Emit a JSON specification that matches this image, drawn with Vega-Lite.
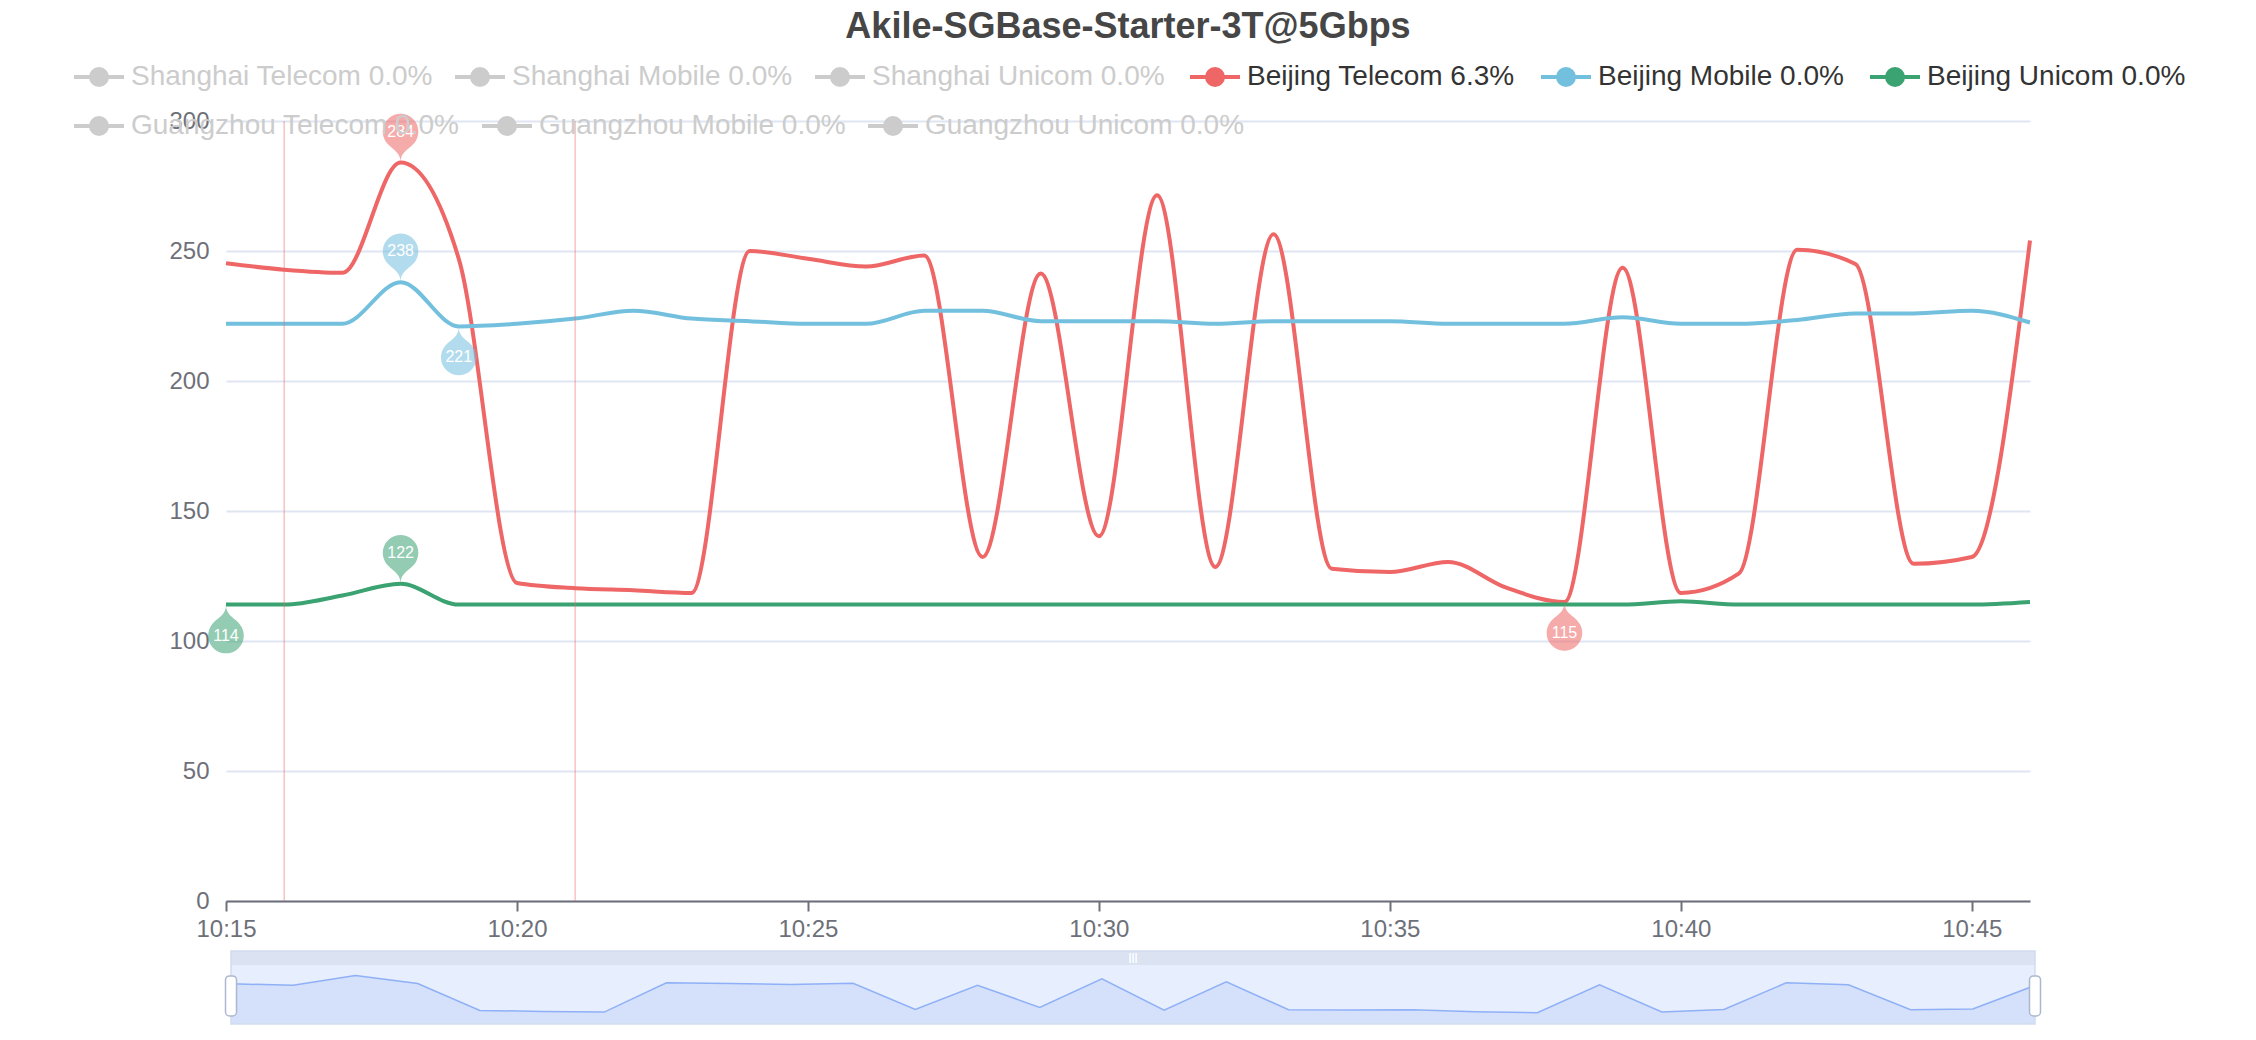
{
  "$schema": "https://vega.github.io/schema/vega-lite/v6.json",
  "width": 1804,
  "height": 780,
  "autosize": {"type": "none"},
  "padding": {"left": 226, "top": 121, "right": 226, "bottom": 139},
  "background": "#ffffff",
  "config": {"font": "Liberation Sans", "view": {"stroke": null}},
  "title": {"text": "Akile-SGBase-Starter-3T@5Gbps", "fontSize": 36, "fontWeight": "bold", "color": "#464646", "anchor": "middle", "offset": 4, "font": "Liberation Sans"},
  "datasets": {
    "lines": [
      {"t": "2024-01-01T10:15", "series": "Beijing Telecom 6.3%", "value": 245.3},
      {"t": "2024-01-01T10:16", "series": "Beijing Telecom 6.3%", "value": 242.8},
      {"t": "2024-01-01T10:17", "series": "Beijing Telecom 6.3%", "value": 241.6},
      {"t": "2024-01-01T10:18", "series": "Beijing Telecom 6.3%", "value": 284},
      {"t": "2024-01-01T10:19", "series": "Beijing Telecom 6.3%", "value": 247},
      {"t": "2024-01-01T10:20", "series": "Beijing Telecom 6.3%", "value": 122.3},
      {"t": "2024-01-01T10:21", "series": "Beijing Telecom 6.3%", "value": 120.3},
      {"t": "2024-01-01T10:22", "series": "Beijing Telecom 6.3%", "value": 119.5},
      {"t": "2024-01-01T10:23", "series": "Beijing Telecom 6.3%", "value": 118.5},
      {"t": "2024-01-01T10:24", "series": "Beijing Telecom 6.3%", "value": 250},
      {"t": "2024-01-01T10:25", "series": "Beijing Telecom 6.3%", "value": 247},
      {"t": "2024-01-01T10:26", "series": "Beijing Telecom 6.3%", "value": 244},
      {"t": "2024-01-01T10:27", "series": "Beijing Telecom 6.3%", "value": 248.3},
      {"t": "2024-01-01T10:28", "series": "Beijing Telecom 6.3%", "value": 132.3},
      {"t": "2024-01-01T10:29", "series": "Beijing Telecom 6.3%", "value": 241.3},
      {"t": "2024-01-01T10:30", "series": "Beijing Telecom 6.3%", "value": 140.3},
      {"t": "2024-01-01T10:31", "series": "Beijing Telecom 6.3%", "value": 271.4},
      {"t": "2024-01-01T10:32", "series": "Beijing Telecom 6.3%", "value": 128.5},
      {"t": "2024-01-01T10:33", "series": "Beijing Telecom 6.3%", "value": 256.4},
      {"t": "2024-01-01T10:34", "series": "Beijing Telecom 6.3%", "value": 127.8},
      {"t": "2024-01-01T10:35", "series": "Beijing Telecom 6.3%", "value": 126.5},
      {"t": "2024-01-01T10:36", "series": "Beijing Telecom 6.3%", "value": 130.4},
      {"t": "2024-01-01T10:37", "series": "Beijing Telecom 6.3%", "value": 120.5},
      {"t": "2024-01-01T10:38", "series": "Beijing Telecom 6.3%", "value": 115},
      {"t": "2024-01-01T10:39", "series": "Beijing Telecom 6.3%", "value": 243.6},
      {"t": "2024-01-01T10:40", "series": "Beijing Telecom 6.3%", "value": 118.5},
      {"t": "2024-01-01T10:41", "series": "Beijing Telecom 6.3%", "value": 126},
      {"t": "2024-01-01T10:42", "series": "Beijing Telecom 6.3%", "value": 250.5},
      {"t": "2024-01-01T10:43", "series": "Beijing Telecom 6.3%", "value": 245},
      {"t": "2024-01-01T10:44", "series": "Beijing Telecom 6.3%", "value": 129.7},
      {"t": "2024-01-01T10:45", "series": "Beijing Telecom 6.3%", "value": 132.3},
      {"t": "2024-01-01T10:46", "series": "Beijing Telecom 6.3%", "value": 254},
      {"t": "2024-01-01T10:15", "series": "Beijing Mobile 0.0%", "value": 222},
      {"t": "2024-01-01T10:16", "series": "Beijing Mobile 0.0%", "value": 222},
      {"t": "2024-01-01T10:17", "series": "Beijing Mobile 0.0%", "value": 222},
      {"t": "2024-01-01T10:18", "series": "Beijing Mobile 0.0%", "value": 238},
      {"t": "2024-01-01T10:19", "series": "Beijing Mobile 0.0%", "value": 221},
      {"t": "2024-01-01T10:20", "series": "Beijing Mobile 0.0%", "value": 222},
      {"t": "2024-01-01T10:21", "series": "Beijing Mobile 0.0%", "value": 224},
      {"t": "2024-01-01T10:22", "series": "Beijing Mobile 0.0%", "value": 227},
      {"t": "2024-01-01T10:23", "series": "Beijing Mobile 0.0%", "value": 224},
      {"t": "2024-01-01T10:24", "series": "Beijing Mobile 0.0%", "value": 223},
      {"t": "2024-01-01T10:25", "series": "Beijing Mobile 0.0%", "value": 222},
      {"t": "2024-01-01T10:26", "series": "Beijing Mobile 0.0%", "value": 222},
      {"t": "2024-01-01T10:27", "series": "Beijing Mobile 0.0%", "value": 227},
      {"t": "2024-01-01T10:28", "series": "Beijing Mobile 0.0%", "value": 227},
      {"t": "2024-01-01T10:29", "series": "Beijing Mobile 0.0%", "value": 223},
      {"t": "2024-01-01T10:30", "series": "Beijing Mobile 0.0%", "value": 223},
      {"t": "2024-01-01T10:31", "series": "Beijing Mobile 0.0%", "value": 223},
      {"t": "2024-01-01T10:32", "series": "Beijing Mobile 0.0%", "value": 222},
      {"t": "2024-01-01T10:33", "series": "Beijing Mobile 0.0%", "value": 223},
      {"t": "2024-01-01T10:34", "series": "Beijing Mobile 0.0%", "value": 223},
      {"t": "2024-01-01T10:35", "series": "Beijing Mobile 0.0%", "value": 223},
      {"t": "2024-01-01T10:36", "series": "Beijing Mobile 0.0%", "value": 222},
      {"t": "2024-01-01T10:37", "series": "Beijing Mobile 0.0%", "value": 222},
      {"t": "2024-01-01T10:38", "series": "Beijing Mobile 0.0%", "value": 222},
      {"t": "2024-01-01T10:39", "series": "Beijing Mobile 0.0%", "value": 224.5},
      {"t": "2024-01-01T10:40", "series": "Beijing Mobile 0.0%", "value": 222},
      {"t": "2024-01-01T10:41", "series": "Beijing Mobile 0.0%", "value": 222},
      {"t": "2024-01-01T10:42", "series": "Beijing Mobile 0.0%", "value": 223.5},
      {"t": "2024-01-01T10:43", "series": "Beijing Mobile 0.0%", "value": 226},
      {"t": "2024-01-01T10:44", "series": "Beijing Mobile 0.0%", "value": 226},
      {"t": "2024-01-01T10:45", "series": "Beijing Mobile 0.0%", "value": 227},
      {"t": "2024-01-01T10:46", "series": "Beijing Mobile 0.0%", "value": 222.5},
      {"t": "2024-01-01T10:15", "series": "Beijing Unicom 0.0%", "value": 114},
      {"t": "2024-01-01T10:16", "series": "Beijing Unicom 0.0%", "value": 114},
      {"t": "2024-01-01T10:17", "series": "Beijing Unicom 0.0%", "value": 117.5},
      {"t": "2024-01-01T10:18", "series": "Beijing Unicom 0.0%", "value": 122},
      {"t": "2024-01-01T10:19", "series": "Beijing Unicom 0.0%", "value": 114},
      {"t": "2024-01-01T10:20", "series": "Beijing Unicom 0.0%", "value": 114},
      {"t": "2024-01-01T10:21", "series": "Beijing Unicom 0.0%", "value": 114},
      {"t": "2024-01-01T10:22", "series": "Beijing Unicom 0.0%", "value": 114},
      {"t": "2024-01-01T10:23", "series": "Beijing Unicom 0.0%", "value": 114},
      {"t": "2024-01-01T10:24", "series": "Beijing Unicom 0.0%", "value": 114},
      {"t": "2024-01-01T10:25", "series": "Beijing Unicom 0.0%", "value": 114},
      {"t": "2024-01-01T10:26", "series": "Beijing Unicom 0.0%", "value": 114},
      {"t": "2024-01-01T10:27", "series": "Beijing Unicom 0.0%", "value": 114},
      {"t": "2024-01-01T10:28", "series": "Beijing Unicom 0.0%", "value": 114},
      {"t": "2024-01-01T10:29", "series": "Beijing Unicom 0.0%", "value": 114},
      {"t": "2024-01-01T10:30", "series": "Beijing Unicom 0.0%", "value": 114},
      {"t": "2024-01-01T10:31", "series": "Beijing Unicom 0.0%", "value": 114},
      {"t": "2024-01-01T10:32", "series": "Beijing Unicom 0.0%", "value": 114},
      {"t": "2024-01-01T10:33", "series": "Beijing Unicom 0.0%", "value": 114},
      {"t": "2024-01-01T10:34", "series": "Beijing Unicom 0.0%", "value": 114},
      {"t": "2024-01-01T10:35", "series": "Beijing Unicom 0.0%", "value": 114},
      {"t": "2024-01-01T10:36", "series": "Beijing Unicom 0.0%", "value": 114},
      {"t": "2024-01-01T10:37", "series": "Beijing Unicom 0.0%", "value": 114},
      {"t": "2024-01-01T10:38", "series": "Beijing Unicom 0.0%", "value": 114},
      {"t": "2024-01-01T10:39", "series": "Beijing Unicom 0.0%", "value": 114},
      {"t": "2024-01-01T10:40", "series": "Beijing Unicom 0.0%", "value": 115.3},
      {"t": "2024-01-01T10:41", "series": "Beijing Unicom 0.0%", "value": 114},
      {"t": "2024-01-01T10:42", "series": "Beijing Unicom 0.0%", "value": 114},
      {"t": "2024-01-01T10:43", "series": "Beijing Unicom 0.0%", "value": 114},
      {"t": "2024-01-01T10:44", "series": "Beijing Unicom 0.0%", "value": 114},
      {"t": "2024-01-01T10:45", "series": "Beijing Unicom 0.0%", "value": 114},
      {"t": "2024-01-01T10:46", "series": "Beijing Unicom 0.0%", "value": 115}
    ],
    "pins": [
      {"t": "2024-01-01T10:18", "series": "Beijing Telecom 6.3%", "value": 284, "kind": "max"},
      {"t": "2024-01-01T10:38", "series": "Beijing Telecom 6.3%", "value": 115, "kind": "min"},
      {"t": "2024-01-01T10:18", "series": "Beijing Mobile 0.0%", "value": 238, "kind": "max"},
      {"t": "2024-01-01T10:19", "series": "Beijing Mobile 0.0%", "value": 221, "kind": "min"},
      {"t": "2024-01-01T10:18", "series": "Beijing Unicom 0.0%", "value": 122, "kind": "max"},
      {"t": "2024-01-01T10:15", "series": "Beijing Unicom 0.0%", "value": 114, "kind": "min"}
    ],
    "marks": [
      {"t": "2024-01-01T10:16"},
      {"t": "2024-01-01T10:21"}
    ],
    "overview": [
      {"idx": 0, "v": 121}, {"idx": 1, "v": 117}, {"idx": 2, "v": 146}, {"idx": 3, "v": 122},
      {"idx": 4, "v": 41}, {"idx": 5, "v": 38}, {"idx": 6, "v": 36}, {"idx": 7, "v": 124},
      {"idx": 8, "v": 122}, {"idx": 9, "v": 119}, {"idx": 10, "v": 123}, {"idx": 11, "v": 44},
      {"idx": 12, "v": 117}, {"idx": 13, "v": 50}, {"idx": 14, "v": 136}, {"idx": 15, "v": 42},
      {"idx": 16, "v": 127}, {"idx": 17, "v": 43}, {"idx": 18, "v": 42}, {"idx": 19, "v": 43},
      {"idx": 20, "v": 37}, {"idx": 21, "v": 34}, {"idx": 22, "v": 118}, {"idx": 23, "v": 36},
      {"idx": 24, "v": 44}, {"idx": 25, "v": 124}, {"idx": 26, "v": 118}, {"idx": 27, "v": 43},
      {"idx": 28, "v": 45}, {"idx": 29, "v": 116}
    ]
  },
  "layer": [
    {
      "layer": [
        {
          "data": {"name": "lines"},
          "mark": {"type": "line", "interpolate": "monotone", "strokeWidth": 4},
          "encoding": {
            "x": {
              "field": "t", "type": "temporal",
              "scale": {"nice": false},
              "axis": {"title": null, "format": "%H:%M",
                "values": [
                  {"year": 2024, "month": 1, "date": 1, "hours": 10, "minutes": 15},
                  {"year": 2024, "month": 1, "date": 1, "hours": 10, "minutes": 20},
                  {"year": 2024, "month": 1, "date": 1, "hours": 10, "minutes": 25},
                  {"year": 2024, "month": 1, "date": 1, "hours": 10, "minutes": 30},
                  {"year": 2024, "month": 1, "date": 1, "hours": 10, "minutes": 35},
                  {"year": 2024, "month": 1, "date": 1, "hours": 10, "minutes": 40},
                  {"year": 2024, "month": 1, "date": 1, "hours": 10, "minutes": 45}
                ],
                "grid": false, "domainColor": "#6E7079", "domainWidth": 2, "tickColor": "#6E7079", "tickWidth": 2, "tickSize": 10, "labelColor": "#6E7079", "labelFontSize": 24, "labelPadding": 6, "labelFlush": false, "labelFont": "Liberation Sans"}
            },
            "y": {
              "field": "value", "type": "quantitative",
              "scale": {"domain": [0, 300], "nice": false},
              "axis": {"title": null, "values": [0, 50, 100, 150, 200, 250, 300], "domain": false, "ticks": false, "tickSize": 0, "grid": true, "gridColor": "#E0E6F1", "gridWidth": 2, "labelColor": "#6E7079", "labelFontSize": 24, "labelPadding": 17, "labelFont": "Liberation Sans"}
            },
            "color": {
              "field": "series", "type": "nominal",
              "scale": {
                "domain": ["Beijing Telecom 6.3%", "Beijing Mobile 0.0%", "Beijing Unicom 0.0%"],
                "range": ["#ee6666", "#73c0de", "#3ba272"]
              },
              "legend": {
                "orient": "none", "legendX": 962, "legendY": -71, "direction": "horizontal", "columns": 3, "gridAlign": "none",
                "title": null,
                "symbolType": "M-1,0H1M-0.32,0A0.32,0.32,0,1,1,0.32,0A0.32,0.32,0,1,1,-0.32,0M-0.16,0A0.16,0.16,0,1,1,0.16,0A0.16,0.16,0,1,1,-0.16,0M-0.04,0A0.04,0.04,0,1,1,0.04,0A0.04,0.04,0,1,1,-0.04,0",
                "symbolSize": 2500, "symbolStrokeWidth": 4, "symbolOpacity": 1,
                "labelFontSize": 28, "labelFont": "Liberation Sans", "labelLimit": 1000, "labelOffset": 5, "labelColor": "#333333",
                "columnPadding": 18, "rowPadding": 0, "padding": 0
              }
            }
          }
        },
        {
          "data": {"name": "lines"},
          "transform": [{"filter": "false"}],
          "mark": {"type": "line", "strokeWidth": 4},
          "encoding": {
            "x": {"field": "t", "type": "temporal"},
            "y": {"field": "value", "type": "quantitative"},
            "stroke": {
              "field": "series", "type": "nominal",
              "scale": {
                "domain": ["Shanghai Telecom 0.0%", "Shanghai Mobile 0.0%", "Shanghai Unicom 0.0%"],
                "range": ["#cccccc", "#cccccc", "#cccccc"]
              },
              "legend": {
                "orient": "none", "legendX": -154, "legendY": -71, "direction": "horizontal", "columns": 3, "gridAlign": "none",
                "title": null,
                "symbolType": "M-1,0H1M-0.32,0A0.32,0.32,0,1,1,0.32,0A0.32,0.32,0,1,1,-0.32,0M-0.16,0A0.16,0.16,0,1,1,0.16,0A0.16,0.16,0,1,1,-0.16,0M-0.04,0A0.04,0.04,0,1,1,0.04,0A0.04,0.04,0,1,1,-0.04,0",
                "symbolSize": 2500, "symbolStrokeWidth": 4, "symbolOpacity": 1,
                "labelFontSize": 28, "labelFont": "Liberation Sans", "labelLimit": 1000, "labelOffset": 5, "labelColor": "#cccccc",
                "columnPadding": 14, "rowPadding": 0, "padding": 0
              }
            }
          }
        },
        {
          "data": {"name": "lines"},
          "transform": [{"filter": "false"}],
          "mark": {"type": "point", "filled": true},
          "encoding": {
            "x": {"field": "t", "type": "temporal"},
            "y": {"field": "value", "type": "quantitative"},
            "fill": {
              "field": "series", "type": "nominal",
              "scale": {
                "domain": ["Guangzhou Telecom 0.0%", "Guangzhou Mobile 0.0%", "Guangzhou Unicom 0.0%"],
                "range": ["#cccccc", "#cccccc", "#cccccc"]
              },
              "legend": {
                "orient": "none", "legendX": -154, "legendY": -22, "direction": "horizontal", "columns": 3, "gridAlign": "none",
                "title": null,
                "symbolType": "M-1,0H1M-0.32,0A0.32,0.32,0,1,1,0.32,0A0.32,0.32,0,1,1,-0.32,0M-0.16,0A0.16,0.16,0,1,1,0.16,0A0.16,0.16,0,1,1,-0.16,0M-0.04,0A0.04,0.04,0,1,1,0.04,0A0.04,0.04,0,1,1,-0.04,0",
                "symbolSize": 2500, "symbolStrokeWidth": 4, "symbolStrokeColor": "#cccccc", "symbolOpacity": 1,
                "labelFontSize": 28, "labelFont": "Liberation Sans", "labelLimit": 1000, "labelOffset": 5, "labelColor": "#cccccc",
                "columnPadding": 14, "rowPadding": 0, "padding": 0
              }
            }
          }
        },
        {
          "data": {"name": "marks"},
          "mark": {"type": "rule", "color": "#ee6666", "opacity": 0.4, "strokeWidth": 1.5},
          "encoding": {"x": {"field": "t", "type": "temporal"}}
        },
        {
          "data": {"name": "pins"},
          "transform": [{"filter": "datum.kind == 'max'"}],
          "mark": {"type": "point", "shape": "M-0.5786,-0.8338A0.65,0.65,0,1,1,0.5786,-0.8338C0.4009,-0.4867,0,-0.455,0,0C0,-0.455,-0.4009,-0.4867,-0.5786,-0.8338Z", "size": 3003, "filled": true, "opacity": 0.55, "strokeWidth": 0},
          "encoding": {
            "x": {"field": "t", "type": "temporal"},
            "y": {"field": "value", "type": "quantitative"},
            "color": {"field": "series", "type": "nominal", "legend": null}
          }
        },
        {
          "data": {"name": "pins"},
          "transform": [{"filter": "datum.kind == 'max'"}],
          "mark": {"type": "text", "dy": -31, "fontSize": 16, "color": "#ffffff", "font": "Liberation Sans"},
          "encoding": {
            "x": {"field": "t", "type": "temporal"},
            "y": {"field": "value", "type": "quantitative"},
            "text": {"field": "value", "type": "quantitative"}
          }
        },
        {
          "data": {"name": "pins"},
          "transform": [{"filter": "datum.kind == 'min'"}],
          "mark": {"type": "point", "shape": "M-0.5786,0.8338A0.65,0.65,0,1,0,0.5786,0.8338C0.4009,0.4867,0,0.455,0,0C0,0.455,-0.4009,0.4867,-0.5786,0.8338Z", "size": 3003, "filled": true, "opacity": 0.55, "strokeWidth": 0},
          "encoding": {
            "x": {"field": "t", "type": "temporal"},
            "y": {"field": "value", "type": "quantitative"},
            "color": {"field": "series", "type": "nominal", "legend": null}
          }
        },
        {
          "data": {"name": "pins"},
          "transform": [{"filter": "datum.kind == 'min'"}],
          "mark": {"type": "text", "dy": 31, "fontSize": 16, "color": "#ffffff", "font": "Liberation Sans"},
          "encoding": {
            "x": {"field": "t", "type": "temporal"},
            "y": {"field": "value", "type": "quantitative"},
            "text": {"field": "value", "type": "quantitative"}
          }
        }
      ]
    },
    {
      "data": {"name": "overview"},
      "layer": [
        {
          "mark": {"type": "area", "color": "#e7eefd", "opacity": 1},
          "encoding": {
            "x": {"field": "idx", "type": "quantitative", "scale": {"domain": [0, 29], "range": [5, 1809], "nice": false, "zero": false}, "axis": null},
            "y": {"datum": 178, "type": "quantitative", "scale": {"domain": [0, 220], "range": [903, 830], "nice": false}, "axis": null},
            "y2": {"datum": 0}
          }
        },
        {
          "mark": {"type": "area", "color": "#8fb0f7", "opacity": 0.2},
          "encoding": {
            "x": {"field": "idx", "type": "quantitative"},
            "y": {"field": "v", "type": "quantitative"},
            "y2": {"datum": 0}
          }
        },
        {
          "mark": {"type": "line", "color": "#8fb0f7", "strokeWidth": 1.5},
          "encoding": {
            "x": {"field": "idx", "type": "quantitative"},
            "y": {"field": "v", "type": "quantitative"}
          }
        },
        {
          "transform": [{"filter": "datum.idx == 0"}],
          "mark": {"type": "rect", "fill": "#dbe2f1"},
          "encoding": {
            "x": {"datum": 0, "type": "quantitative"},
            "x2": {"datum": 29},
            "y": {"datum": 178, "type": "quantitative"},
            "y2": {"datum": 220}
          }
        },
        {
          "transform": [{"filter": "datum.idx == 0"}],
          "mark": {"type": "rect", "fill": "#ffffff", "fillOpacity": 0, "stroke": "#d2dbee", "strokeWidth": 1.5},
          "encoding": {
            "x": {"datum": 0, "type": "quantitative"},
            "x2": {"datum": 29},
            "y": {"datum": 0, "type": "quantitative"},
            "y2": {"datum": 220}
          }
        },
        {
          "transform": [{"filter": "datum.idx == 0"}],
          "mark": {"type": "text", "text": "|||", "fontSize": 11, "fontWeight": "bold", "color": "#ffffff"},
          "encoding": {
            "x": {"datum": 14.5, "type": "quantitative"},
            "y": {"datum": 199, "type": "quantitative"}
          }
        },
        {
          "transform": [{"filter": "datum.idx == 0 || datum.idx == 29"}],
          "mark": {"type": "point", "shape": "M-0.075,-1H0.075A0.2,0.2,0,0,1,0.275,-0.8V0.8A0.2,0.2,0,0,1,0.075,1H-0.075A0.2,0.2,0,0,1,-0.275,0.8V-0.8A0.2,0.2,0,0,1,-0.075,-1Z", "size": 1600, "filled": true, "fill": "#ffffff", "stroke": "#acb8d1", "strokeWidth": 1.5, "opacity": 1},
          "encoding": {
            "x": {"field": "idx", "type": "quantitative"},
            "y": {"datum": 84.5, "type": "quantitative"}
          }
        }
      ]
    }
  ],
  "resolve": {"scale": {"x": "independent", "y": "independent"}, "axis": {"x": "independent", "y": "independent"}}
}
